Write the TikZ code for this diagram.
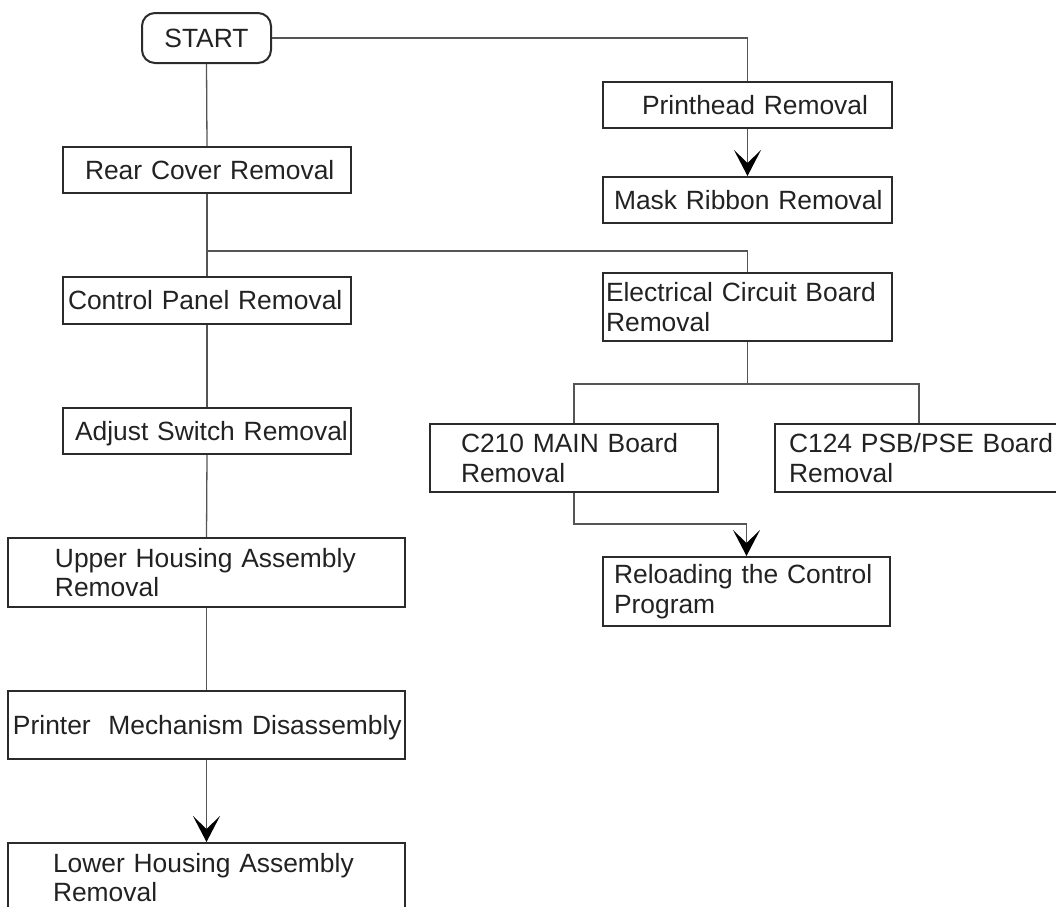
\documentclass[tikz,border=0pt]{standalone}
\usepackage{fontspec}
\setmainfont{Liberation Sans}
\usetikzlibrary{arrows.meta,calc}
\definecolor{ink}{HTML}{222222}
\definecolor{frame}{HTML}{2B2B2B}
\definecolor{wire}{HTML}{555555}
\newcommand{\boxfont}{\fontsize{26.4pt}{29.5pt}\selectfont}
\begin{document}
\begin{tikzpicture}[x=1pt,y=-1pt,
  box/.style={draw=frame, line width=2pt, inner sep=0pt, align=left,
    text width=#1, text=ink, font=\boxfont},
  box/.default=288pt,
  oneline/.style={text height=18.9pt, text depth=0pt},
  startbox/.style={draw=frame, line width=2pt, rounded corners=13pt,
    minimum width=129pt, minimum height=50pt, inner sep=0pt,
    text=ink, font=\boxfont},
  link/.style={draw=wire, line width=1.3pt},
  flow/.style={link, -{Stealth[length=26pt, width=27pt, inset=13pt, color=black]}}
]
\useasboundingbox (0,0) rectangle (1056,906);
\clip (0,0) rectangle (1056,906);

% left column
\node[startbox] (start) at (206.5,38) {START};
\node[box, oneline, minimum height=46pt] (rear) at (207,170)
  {\hspace*{22pt}Rear Cover Removal};
\node[box, oneline, minimum height=47pt] (ctrl) at (207,300.5)
  {\hspace*{5pt}Control Panel Removal};
\node[box, oneline, minimum height=46pt] (adj) at (207,431)
  {\hspace*{12pt}Adjust Switch Removal};
\node[box=397pt, minimum height=69pt] (upper) at (206.5,572.5)
  {\hspace*{47pt}Upper Housing Assembly\\\hspace*{47pt}Removal};
\node[box=397pt, oneline, minimum height=68pt] (mech) at (206.5,725)
  {\hspace*{5pt}Printer\ \ Mechanism Disassembly};
\node[box=397pt, minimum height=69pt] (lower) at (206.5,877.5)
  {\hspace*{45pt}Lower Housing Assembly\\\hspace*{45pt}Removal};

% right column
\node[box=289pt, oneline, minimum height=46pt] (print) at (747.5,105)
  {\hspace*{39pt}Printhead Removal};
\node[box=289pt, oneline, minimum height=46pt] (mask) at (747.5,200)
  {\hspace*{11pt}Mask Ribbon Removal};
\node[box=289pt, minimum height=68pt] (elec) at (747.5,307)
  {\hspace*{3pt}Electrical Circuit Board\\\hspace*{3pt}Removal};
\node[box, minimum height=68pt] (c210) at (574,458)
  {\hspace*{31pt}C210 MAIN Board\\\hspace*{31pt}Removal};
\node[box, minimum height=68pt] (c124) at (919,458)
  {\hspace*{14pt}C124 PSB/PSE Board\\\hspace*{14pt}Removal};
\node[box=287pt, minimum height=69pt] (reload) at (746.5,591.5)
  {\hspace*{11pt}Reloading the Control\\\hspace*{11pt}Program};

% connectors
\draw[link] (start.south) -- (rear.north);
\draw[link] (rear.south) -- (ctrl.north);
\coordinate (split) at ($(rear.south)+(0,57)$);
\draw[link] (split) -| (elec.north);
\draw[link] (ctrl.south) -- (adj.north);
\draw[link] (adj.south) -- (upper.north);
\draw[link] (upper.south) -- (mech.north);
\draw[flow] (mech.south) -- (lower.north);

\draw[link] (start.east) -| (print.north);
\draw[flow] (print.south) -- (mask.north);

\draw[link] (elec.south) -- ++(0,42) coordinate (fork);
\draw[link] (c210.north) |- (fork) -| (c124.north);
\draw[flow] (c210.south) -- ++(0,31) -| (reload.north);
\end{tikzpicture}
\end{document}
